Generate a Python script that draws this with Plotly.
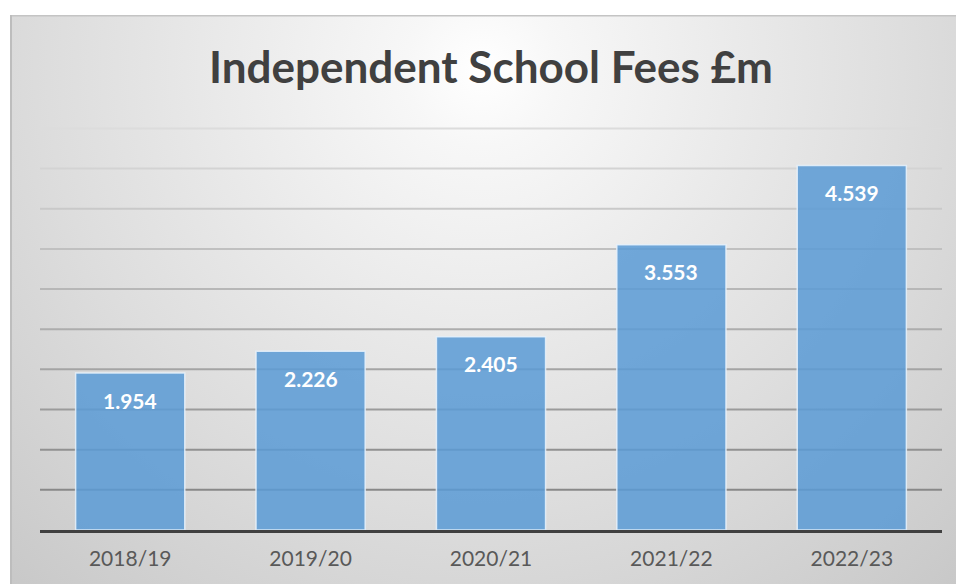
import base64
import plotly.graph_objects as go

years = ["2018/19", "2019/20", "2020/21", "2021/22", "2022/23"]
fees = [1.954, 2.226, 2.405, 3.553, 4.539]
labels = ["1.954", "2.226", "2.405", "3.553", "4.539"]
grid_values = [0.5, 1.0, 1.5, 2.0, 2.5, 3.0, 3.5, 4.0, 4.5, 5.0]

W, H = 956, 584
YMAX = 5.03
L, R, B = 40, 14, 54
T = round(530 - YMAX * 80.4)
pw, ph = W - L - R, H - T - B

svg = '''<svg xmlns="http://www.w3.org/2000/svg" width="946" height="569" viewBox="0 0 946 569" preserveAspectRatio="none">
<defs><radialGradient id="g" cx="472" cy="55" r="700" gradientUnits="userSpaceOnUse">
<stop offset="0" stop-color="#ffffff"/><stop offset="0.11" stop-color="#f7f7f7"/>
<stop offset="0.62" stop-color="#dddddd"/><stop offset="0.95" stop-color="#cbcbcb"/>
<stop offset="1" stop-color="#c8c8c8"/></radialGradient></defs>
<rect x="0" y="0" width="946" height="569" fill="url(#g)"/>
<line x1="0" y1="0.75" x2="946" y2="0.75" stroke="#c4c4c4" stroke-width="1.5"/>
<line x1="1" y1="0" x2="1" y2="569" stroke="#bdbdbd" stroke-width="2"/>
</svg>'''
src = "data:image/svg+xml;base64," + base64.b64encode(svg.encode()).decode()


def grid_color(v):
    t = (v - 0.5) / 4.5
    c = round(136 + t * (220 - 136))
    return f"rgb({c},{c},{c})"


shapes = [dict(type="line", xref="paper", yref="y", x0=0, x1=1, y0=v, y1=v,
               line=dict(color=grid_color(v), width=2), layer="below") for v in grid_values]

annotations = [dict(x=yr, y=v, xref="x", yref="y", text=f"<b>{lab}</b>", showarrow=False,
                    yanchor="middle", yshift=-27,
                    font=dict(family="Lato", size=21, color="white"))
               for yr, v, lab in zip(years, fees, labels)]

fig = go.Figure()
fig.add_trace(go.Bar(
    x=years, y=fees,
    marker=dict(color="rgba(91,155,213,0.86)", line=dict(color="rgba(232,242,252,0.85)", width=1.5)),
    hoverinfo="x+y",
))

fig.update_layout(
    width=W, height=H,
    margin=dict(l=L, r=R, t=T, b=B),
    paper_bgcolor="white",
    plot_bgcolor="rgba(0,0,0,0)",
    bargap=0.395,
    showlegend=False,
    title=dict(text="<b>Independent School Fees £m</b>", xref="container", x=491 / W,
               xanchor="center", y=1 - 68 / H, yanchor="middle",
               font=dict(family="Lato", size=44, color="#404040")),
    images=[dict(source=src, xref="paper", yref="paper",
                 x=(10 - L) / pw, y=(H - B - 15) / ph,
                 sizex=(W - 10) / pw, sizey=(H - 15) / ph,
                 xanchor="left", yanchor="top", sizing="stretch", layer="below")],
    shapes=shapes,
    annotations=annotations,
    xaxis=dict(showline=True, linecolor="#404040", linewidth=3, ticks="",
               ticklabelstandoff=8,
               tickfont=dict(family="Lato", size=21, color="#595959"), showgrid=False),
    yaxis=dict(range=[0, YMAX], showticklabels=False, showgrid=False,
               zeroline=False, showline=False),
)
fig.write_html("out.html", config={"displayModeBar": False},
               post_script="document.body.style.margin='0';document.body.style.overflow='hidden';")
